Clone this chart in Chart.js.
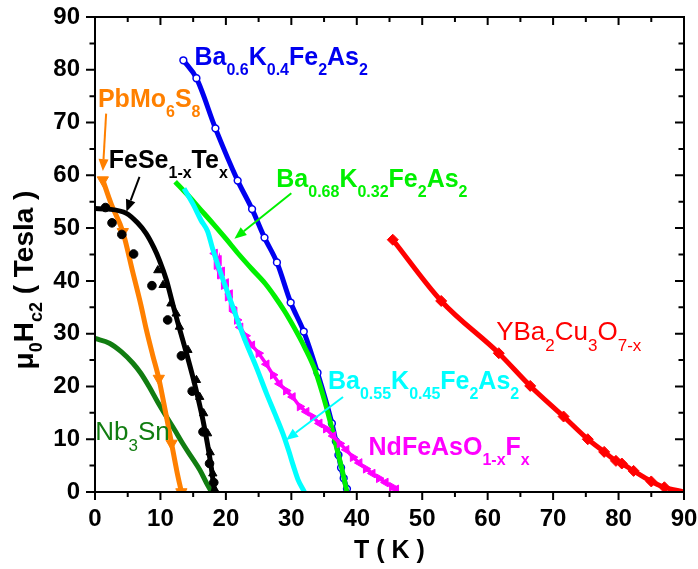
<!DOCTYPE html>
<html>
<head>
<meta charset="utf-8">
<script src="https://cdn.jsdelivr.net/npm/chart.js@4.4.0/dist/chart.umd.min.js"></script>
<style>
html, body { margin: 0; padding: 0; background: #fff; }
#wrap { width: 698px; height: 569px; }
</style>
</head>
<body>
<div id="wrap"><canvas id="chart" width="698" height="569"></canvas></div>
<script>
// upper critical field mu0Hc2 (Tesla) against T (K)

const ba04T = [13.5, 15.5, 18.4, 21.8, 24.0, 25.9, 27.8, 29.9, 31.9, 34.0, 36.2, 36.8, 37.2, 37.6, 38.0, 38.5];
const ba04H = [81.8, 78.4, 68.9, 59.0, 53.6, 48.2, 43.5, 35.9, 30.4, 22.6, 13.0, 9.6, 7.0, 4.6, 2.6, 0.6];

const ba032T = [12.25, 14, 16, 18, 20, 22, 24, 26, 27.5, 29, 30.5, 32, 33.5, 34.8, 35.8, 36.8, 37.7, 38.5];
const ba032H = [58.8, 56.5, 53.7, 50.9, 48.0, 45.0, 42.2, 39.5, 37.0, 34.2, 31.0, 27.5, 23.5, 18.5, 14.0, 9.0, 4.5, 0];

const ba045T = [13.6, 15.0, 16.2, 17.2, 18.0, 19.2, 20.5, 21.8, 23.1, 24.6, 26.2, 27.5, 28.7, 29.6, 30.3, 31.0, 32.0];
const ba045H = [57.5, 54.5, 51.5, 49.4, 46.0, 41.5, 37.0, 32.5, 28.2, 23.8, 18.7, 14.8, 11.1, 7.8, 5.0, 2.4, 0];

const ndT = [18.3, 18.6, 18.9, 19.1, 19.4, 19.7, 20.0, 20.3, 20.6, 20.9, 21.3, 21.7, 22.2, 23.0, 24.0, 25.0, 26.2, 27.2,
             28.2, 29.2, 30.2, 31.3, 32.3, 33.3, 34.3, 35.3, 36.4, 37.4, 38.4, 39.4, 40.4, 41.4, 42.4, 43.4, 44.4, 45.4, 46.0];
const ndH = [45.2, 43.0, 44.0, 41.2, 41.8, 39.2, 39.6, 37.0, 37.5, 35.0, 34.2, 32.6, 31.2, 29.6, 27.8, 26.3, 24.2, 22.2,
             20.5, 19.2, 18.0, 16.2, 15.2, 14.2, 13.0, 12.0, 10.6, 9.2, 8.0, 6.6, 5.5, 4.4, 3.5, 2.6, 1.8, 1.0, 0.5];

const ybcoT = [45.5, 52.9, 61.7, 66.5, 71.6, 75.3, 77.8, 79.6, 80.5, 82.3, 85.0, 87.0, 90.0];
const ybcoH = [47.8, 36.2, 26.3, 20.1, 14.3, 10.0, 7.6, 5.9, 5.4, 4.0, 2.0, 0.9, 0];

const pbmoT = [1.2, 2.5, 4.25, 5.8, 7.0, 7.8, 8.8, 9.75, 10.8, 11.7, 12.5, 13.2];
const pbmoH = [59.1, 54.5, 49.3, 41.5, 35.5, 31.0, 26.0, 21.5, 15.0, 9.2, 4.0, 0];
const pbmoMarked = [0, 2, 7, 9, 11];

const fitT = [0, 2, 4.8, 6.5, 7.8, 9.0, 9.85, 10.9, 11.9, 12.9, 14.0, 14.95, 15.8, 16.5, 17.2, 17.75, 18.25];
const fitH = [53.7, 53.6, 52.8, 51.0, 49.0, 46.3, 43.9, 40.2, 35.5, 31.0, 26.2, 21.8, 17.5, 13.6, 9.0, 4.8, 0];

const circT = [1.6, 2.6, 4.1, 5.9, 8.7, 11.1, 13.2, 14.85, 16.5, 17.5, 18.15];
const circH = [53.9, 51.0, 48.8, 45.1, 39.1, 32.6, 25.8, 19.1, 11.4, 5.4, 1.8];

const triT = [9.6, 10.4, 11.6, 12.4, 12.9, 14.2, 15.5, 16.0, 16.6, 17.2, 17.6, 18.0, 18.3];
const triH = [42.0, 39.2, 35.7, 33.8, 31.3, 26.9, 21.2, 18.0, 14.9, 11.1, 7.5, 3.5, 0.5];

const nb3snT = [0, 2.2, 4.0, 5.8, 7.0, 8.3, 9.6, 10.9, 12.2, 13.4, 14.7, 16.0, 17.0, 17.8];
const nb3snH = [29.1, 28.2, 26.6, 24.4, 22.5, 19.9, 17.0, 14.3, 11.7, 9.2, 6.7, 4.2, 1.8, 0];

const xTicks = [0, 90, 10];
const yTicks = [0, 90, 10];

// text labels, parts marked 1 are subscripts
const labels = [
    {parts: [["Ba"], ["0.6", 1], ["K"], ["0.4", 1], ["Fe"], ["2", 1], ["As"], ["2", 1]], T: 15.2, H: 80.9, color: "#0000f0", bold: true},
    {parts: [["PbMo"], ["6", 1], ["S"], ["8", 1]], T: 0.45, H: 72.9, color: "#ff8000", bold: true},
    {parts: [["FeSe"], ["1-x", 1], ["Te"], ["x", 1]], T: 2.1, H: 61.3, color: "#000000", bold: true},
    {parts: [["Ba"], ["0.68", 1], ["K"], ["0.32", 1], ["Fe"], ["2", 1], ["As"], ["2", 1]], T: 27.7, H: 57.8, color: "#00f000", bold: true},
    {parts: [["YBa"], ["2", 1], ["Cu"], ["3", 1], ["O"], ["7-x", 1]], T: 61.3, H: 28.8, color: "#ff0000", bold: false},
    {parts: [["Ba"], ["0.55", 1], ["K"], ["0.45", 1], ["Fe"], ["2", 1], ["As"], ["2", 1]], T: 35.6, H: 19.6, color: "#00ffff", bold: true},
    {parts: [["NdFeAsO"], ["1-x", 1], ["F"], ["x", 1]], T: 41.8, H: 7.0, color: "#ff00ff", bold: true},
    {parts: [["Nb"], ["3", 1], ["Sn"]], T: 0.05, H: 9.85, color: "#117d11", bold: false}
];

// arrows from label to curve: [T0, H0, T1, H1, colour]
const arrows = [
    [1.7, 71.7, 1.2, 60.8, "#ff8000"],
    [6.8, 59.7, 4.8, 53.1, "#000000"],
    [30.0, 56.6, 21.3, 48.0, "#00f000"],
    [37.9, 18.0, 29.2, 9.85, "#00ffff"]
];

const pts = (xs, ys) => xs.map((x, i) => ({x: x, y: ys[i]}));

Chart.defaults.font.family = "'Liberation Sans', Arial, sans-serif";

function line(data, color, extra) {
    return Object.assign({
        data: data,
        borderColor: color,
        backgroundColor: color,
        borderWidth: 5,
        pointRadius: 0,
        pointBorderWidth: 1,
        fill: false,
        cubicInterpolationMode: "monotone"
    }, extra || {});
}

function drawRich(ctx, parts, x, y, size, bold) {
    let cx = x;
    const w = bold ? "bold " : "";
    parts.forEach(p => {
        const sub = p[1] === 1;
        ctx.font = w + (sub ? size.sub : size.main) + "px 'Liberation Sans', Arial, sans-serif";
        ctx.fillText(p[0], cx, sub ? y + size.off : y);
        cx += ctx.measureText(p[0]).width;
    });
    return cx - x;
}

function richWidth(ctx, parts, size, bold) {
    let w = 0;
    parts.forEach(p => {
        ctx.font = (bold ? "bold " : "") + (p[1] === 1 ? size.sub : size.main) + "px 'Liberation Sans', Arial, sans-serif";
        w += ctx.measureText(p[0]).width;
    });
    return w;
}

// no automatic room for overflowing tick labels, the plot box is fixed by layout padding
function fixBox(s, key, size) {
    s[key] = size;
    s.paddingLeft = 0;
    s.paddingRight = 0;
    s.paddingTop = 0;
    s.paddingBottom = 0;
}

const decor = {
    id: "decor",
    afterDatasetsDraw(chart) {
        const ctx = chart.ctx;
        const a = chart.chartArea;
        const x = chart.scales.x, y = chart.scales.y;
        ctx.save();
        ctx.strokeStyle = "#000";
        ctx.lineWidth = 2;
        ctx.strokeRect(a.left, a.top, a.right - a.left, a.bottom - a.top);
        ctx.beginPath();
        for (let v = 0; v <= 90; v += 5) {
            const major = v % 10 === 0;
            const px = x.getPixelForValue(v), py = y.getPixelForValue(v);
            const lb = major ? 8 : 5, ll = major ? 9 : 5.5;
            ctx.moveTo(px, a.bottom); ctx.lineTo(px, a.bottom + lb);
            ctx.moveTo(px, a.top); ctx.lineTo(px, a.top + lb);
            ctx.moveTo(a.left - ll, py); ctx.lineTo(a.left, py);
            ctx.moveTo(a.right, py); ctx.lineTo(a.right - ll, py);
        }
        ctx.stroke();

        // arrows
        arrows.forEach(ar => {
            const x0 = x.getPixelForValue(ar[0]), y0 = y.getPixelForValue(ar[1]);
            const x1 = x.getPixelForValue(ar[2]), y1 = y.getPixelForValue(ar[3]);
            const ang = Math.atan2(y1 - y0, x1 - x0);
            const len = 12, half = 5;
            const bx = x1 - len * Math.cos(ang), by = y1 - len * Math.sin(ang);
            ctx.strokeStyle = ar[4];
            ctx.fillStyle = ar[4];
            ctx.lineWidth = 2;
            ctx.beginPath();
            ctx.moveTo(x0, y0);
            ctx.lineTo(bx, by);
            ctx.stroke();
            ctx.beginPath();
            ctx.moveTo(x1, y1);
            ctx.lineTo(bx + half * Math.sin(ang), by - half * Math.cos(ang));
            ctx.lineTo(bx - half * Math.sin(ang), by + half * Math.cos(ang));
            ctx.closePath();
            ctx.fill();
        });

        // curve labels
        ctx.textBaseline = "alphabetic";
        ctx.textAlign = "left";
        labels.forEach(l => {
            ctx.fillStyle = l.color;
            const size = l.bold ? {main: 25, sub: 16, off: 10} : {main: 26, sub: 17, off: 11};
            drawRich(ctx, l.parts, x.getPixelForValue(l.T), y.getPixelForValue(l.H), size, l.bold);
        });

        // axis titles
        ctx.fillStyle = "#000";
        ctx.font = "bold 25px 'Liberation Sans', Arial, sans-serif";
        ctx.textAlign = "center";
        ctx.fillText("T ( K )", (a.left + a.right) / 2, 558);

        ctx.textAlign = "left";
        const yParts = [["\u03bc"], ["0", 1], ["H"], ["c2", 1], [" ( Tesla )"]];
        const ySize = {main: 28, sub: 18, off: 9};
        const yw = richWidth(ctx, yParts, ySize, true);
        ctx.translate(33, 280);
        ctx.rotate(-Math.PI / 2);
        drawRich(ctx, yParts, -yw / 2, 0, ySize, true);
        ctx.restore();
    }
};

const pbmoRadius = pbmoT.map((t, i) => pbmoMarked.includes(i) ? 6.5 : 0);
const ybcoRadius = ybcoT.map((t, i) => i < ybcoT.length - 1 ? 5.5 : 0);
const ndRotation = ndT.map((t, i) => i % 2 ? 90 : -90);

new Chart(document.getElementById("chart"), {
    type: "line",
    data: {
        datasets: [
            line(pts(fitT, fitH), "#000000", {order: 3}),
            line(pts(circT, circH), "#000000", {showLine: false, pointRadius: 4.3, pointStyle: "circle", order: 1}),
            line(pts(triT, triH), "#000000", {showLine: false, pointRadius: 4.8, pointStyle: "triangle", order: 2}),
            line(pts(ba045T, ba045H), "#00ffff", {order: 4}),
            line(pts(ndT, ndH), "#ff00ff", {borderWidth: 3.5, pointRadius: 5, pointStyle: "triangle",
                pointRotation: ndRotation, cubicInterpolationMode: "default", tension: 0, order: 5}),
            line(pts(ba032T, ba032H), "#00f000", {order: 6}),
            line(pts(ba04T, ba04H), "#0000f0", {pointRadius: 3.4, pointStyle: "circle",
                pointBackgroundColor: "#ffffff", pointBorderColor: "#0000f0", pointBorderWidth: 1.5, order: 7}),
            line(pts(pbmoT, pbmoH), "#ff8000", {pointRadius: pbmoRadius, pointStyle: "triangle", pointRotation: 180, order: 8}),
            line(pts(nb3snT, nb3snH), "#117d11", {order: 9}),
            line(pts(ybcoT, ybcoH), "#ff0000", {pointRadius: ybcoRadius, pointStyle: "rectRot", order: 10})
        ]
    },
    options: {
        responsive: false,
        animation: false,
        devicePixelRatio: 1,
        layout: {padding: {top: 17, right: 14, left: 0, bottom: 0}},
        plugins: {legend: {display: false}, tooltip: {enabled: false}},
        scales: {
            x: {
                type: "linear",
                min: xTicks[0], max: xTicks[1],
                grid: {display: false, drawTicks: false},
                border: {display: false},
                ticks: {stepSize: xTicks[2], color: "#000", padding: 13, font: {size: 24, weight: "bold"}, maxRotation: 0},
                afterFit(s) { fixBox(s, "height", 77); }
            },
            y: {
                type: "linear",
                min: yTicks[0], max: yTicks[1],
                grid: {display: false, drawTicks: false},
                border: {display: false},
                ticks: {stepSize: yTicks[2], color: "#000", padding: 15, font: {size: 24, weight: "bold"}},
                afterFit(s) { fixBox(s, "width", 95); }
            }
        }
    },
    plugins: [decor]
});
</script>
</body>
</html>
